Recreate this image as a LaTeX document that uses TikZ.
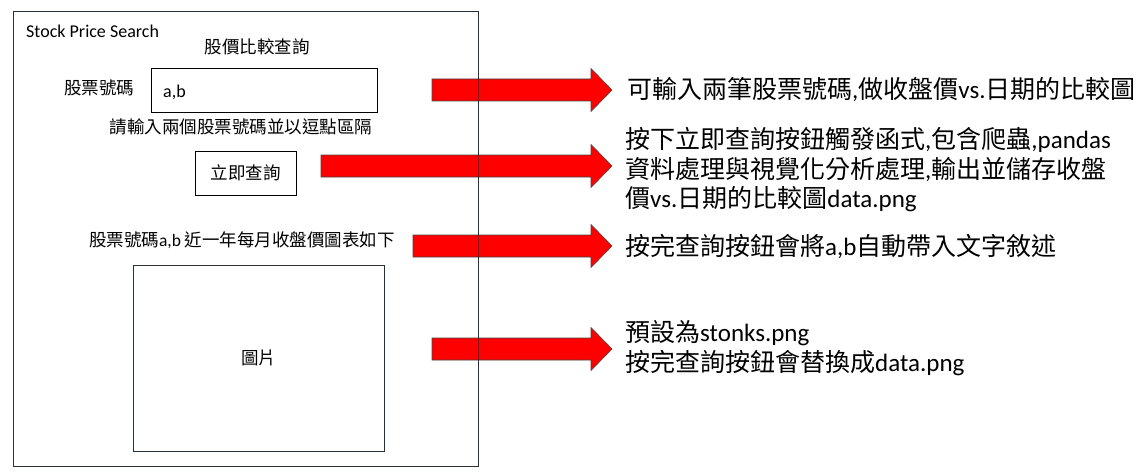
\documentclass[tikz,border=0pt]{standalone}
\usepackage{fontspec}
\setmainfont{Noto Sans CJK TC}
\newfontfamily\latinfont{Carlito}
\newcommand{\la}[1]{{\latinfont #1}}
\definecolor{FrameGray}{RGB}{38,50,56}
\definecolor{ArrowRed}{RGB}{255,0,0}
\definecolor{ArrowEdge}{RGB}{70,70,70}
\usetikzlibrary{positioning}

\begin{document}
\begin{tikzpicture}[x=1pt,y=-1pt,
    frame/.style={draw=FrameGray,line width=1pt},
    box/.style={draw=black,line width=0.9pt,inner sep=0pt},
    lbl/.style={font=\fontsize{17.5}{21}\selectfont,inner sep=0pt},
    note/.style={font=\fontsize{25}{29.5}\selectfont,align=left,anchor=west,inner sep=0pt},
    bigarrow/.style={draw=ArrowEdge,fill=ArrowRed,line width=0.6pt,line join=miter}]

    \useasboundingbox (0,0) rectangle (1148,476);

    % Arrows (under the frame)
    \foreach \y/\xs in {90/432, 166/321, 246/413, 349/432}
      \draw[bigarrow] (\xs,\y-11) -- (591,\y-11) -- (591,\y-21.5) -- (612,\y)
                      -- (591,\y+21.5) -- (591,\y+11) -- (\xs,\y+11) -- cycle;

    % Frame
    \draw[frame] (13,12) rectangle (478,466);
    \node[lbl,anchor=west,font=\latinfont\fontsize{18}{21}\selectfont] (title) at (26,31) {Stock Price Search};
    \node[lbl] (head) at (257,47) {股價比較查詢};

    % Input
    \node[lbl] (codelbl) at (99,88) {股票號碼};
    \node[box,minimum width=226pt,minimum height=44pt] (input) at (264,90) {};
    \node[lbl,anchor=west,font=\latinfont\fontsize{18}{21}\selectfont] (inval) at (163,92) {a,b};
    \node[lbl] (hint) at (241,127) {請輸入兩個股票號碼並以逗點區隔};

    % Button
    \node[box,minimum width=101pt,minimum height=44pt,lbl] (btn) at (245.5,173) {立即查詢};

    % Result
    \node[lbl] (caption) at (242,240) {股票號碼\la{a,b} 近一年每月收盤價圖表如下};
    \node[frame,minimum width=251pt,minimum height=186pt,lbl] (img) at (258.5,358) {圖片};

    % Notes
    \node[note] (n1) at (627,90) {可輸入兩筆股票號碼\la{,}做收盤價\la{vs.}日期的比較圖};
    \node[note] (n2) at (625,170) {按下立即查詢按鈕觸發函式\la{,}包含爬蟲\la{,pandas}\\
      資料處理與視覺化分析處理\la{,}輸出並儲存收盤\\價\la{vs.}日期的比較圖\la{data.png}};
    \node[note] (n3) at (625,246) {按完查詢按鈕會將\la{a,b}自動帶入文字敘述};
    \node[note] (n4) at (625,348) {預設為\la{stonks.png}\\按完查詢按鈕會替換成\la{data.png}};
\end{tikzpicture}
\end{document}
